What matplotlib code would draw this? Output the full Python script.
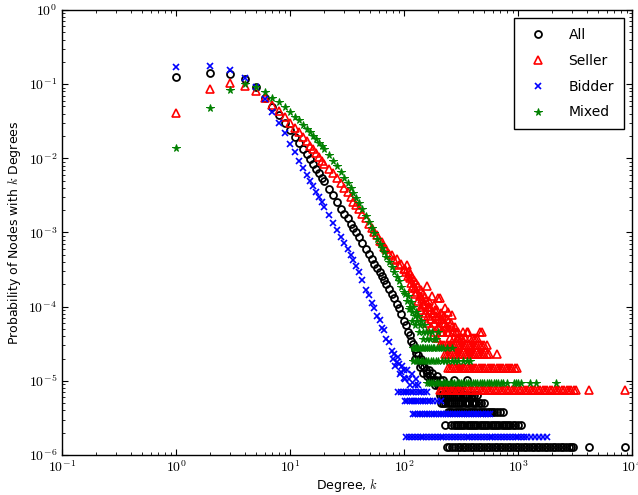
import numpy as np
import matplotlib
matplotlib.use("Agg")
import matplotlib.pyplot as plt
from matplotlib.ticker import FuncFormatter, LogLocator

plt.rcParams['mathtext.fontset'] = 'cm'
plt.rcParams['font.family'] = ['DejaVu Sans']

# Body of the distributions (one point per degree)
body_k = [1, 2, 3, 4, 5, 6, 7, 8, 9, 10, 11, 12, 13, 14, 15, 16, 17, 18, 19, 20,
          22, 24, 26, 28, 30, 32, 34, 36, 38, 40, 43, 46, 49, 52, 55, 58, 61, 64, 67, 70,
          74, 78, 82, 86, 90, 95, 100]

all_p = [0.126, 0.143, 0.137, 0.119, 0.093, 0.0646, 0.049, 0.038, 0.030, 0.024,
         0.0195, 0.0162, 0.0135, 0.0115, 0.0098, 0.0083, 0.0072, 0.0063, 0.0055, 0.0049,
         3.9e-3, 3.2e-3, 2.6e-3, 2.1e-3, 1.8e-3, 1.55e-3, 1.32e-3, 1.15e-3, 1.0e-3, 8.7e-4,
         7.2e-4, 6.0e-4, 5.1e-4, 4.4e-4, 3.8e-4, 3.3e-4, 2.9e-4, 2.6e-4, 2.3e-4, 2.0e-4,
         1.75e-4, 1.5e-4, 1.3e-4, 1.1e-4, 9.5e-5, 8.0e-5, 6.5e-5]
seller_p = [0.0405, 0.086, 0.103, 0.0946, 0.082, 0.066, 0.0525, 0.0437, 0.0363, 0.030,
            0.0257, 0.0224, 0.0195, 0.0170, 0.0148, 0.0132, 0.0117, 0.0105, 0.0093, 0.0085,
            7.1e-3, 6.3e-3, 5.4e-3, 4.6e-3, 4.0e-3, 3.5e-3, 3.0e-3, 2.6e-3, 2.35e-3, 2.1e-3,
            1.75e-3, 1.55e-3, 1.3e-3, 1.15e-3, 1.0e-3, 9.2e-4, 7.8e-4, 7.4e-4, 6.3e-4, 6.0e-4,
            5.2e-4, 5.0e-4, 4.2e-4, 4.4e-4, 3.6e-4, 3.8e-4, 3.2e-4]
bidder_p = [0.172, 0.176, 0.155, 0.122, 0.093, 0.0625, 0.0426, 0.0302, 0.0218, 0.0158,
            0.0120, 0.0093, 0.0074, 0.0060, 0.0050, 0.0042, 0.0035, 0.0030, 0.0026, 0.0022,
            1.74e-3, 1.35e-3, 1.07e-3, 8.7e-4, 7.2e-4, 6.0e-4, 5.0e-4, 4.2e-4, 3.5e-4, 2.9e-4,
            2.3e-4, 1.7e-4, 1.45e-4, 1.12e-4, 9.5e-5, 7.6e-5, 6.7e-5, 5.2e-5, 4.8e-5, 3.7e-5,
            3.3e-5, 2.5e-5, 2.3e-5, 1.8e-5, 1.7e-5, 1.3e-5, 1.4e-5]
mixed_p = [0.0139, 0.048, 0.0835, 0.100, 0.091, 0.0776, 0.066, 0.0575, 0.049, 0.0417,
           0.0363, 0.0324, 0.0282, 0.0251, 0.0224, 0.0200, 0.0182, 0.0162, 0.0148, 0.0135,
           0.0112, 9.3e-3, 7.8e-3, 6.5e-3, 5.5e-3, 4.7e-3, 4.0e-3, 3.4e-3, 2.9e-3, 2.5e-3,
           2.05e-3, 1.65e-3, 1.38e-3, 1.15e-3, 9.8e-4, 8.3e-4, 7.1e-4, 6.2e-4, 5.4e-4, 4.7e-4,
           4.0e-4, 3.4e-4, 2.9e-4, 2.5e-4, 2.2e-4, 1.85e-4, 1.6e-4]

# Noisy region between body and the discrete tail
all_noise_k = [104, 108, 112, 116, 120, 124, 128, 132, 136, 140, 145, 150, 155, 160, 165,
               170, 176, 182, 188, 194, 200, 208, 216, 225, 235, 245, 258, 272, 290, 310, 355,
               125, 138, 148, 158, 168, 178, 190, 205, 220]
all_noise_p = [5.6e-5, 4.6e-5, 4.1e-5, 3.4e-5, 3.1e-5, 2.7e-5, 2.4e-5, 2.2e-5, 1.9e-5, 2.0e-5,
               1.66e-5, 1.53e-5, 1.4e-5, 1.28e-5, 1.4e-5, 1.15e-5, 1.28e-5, 1.02e-5, 8.9e-6,
               1.15e-5, 8.9e-6, 1.02e-5, 7.66e-6, 8.9e-6, 7.66e-6, 8.9e-6, 7.66e-6, 1.02e-5,
               7.66e-6, 7.66e-6, 1.02e-5,
               2.0e-5, 1.53e-5, 1.28e-5, 1.15e-5, 1.02e-5, 1.02e-5, 1.02e-5, 8.9e-6, 1.02e-5]
seller_noise_k = [102, 104, 106, 108, 110, 112, 114, 116, 118, 120, 122, 125, 128, 131, 134,
                  137, 140, 143, 146, 150, 154, 158, 162, 166, 170, 175, 180, 185, 190, 195,
                  200, 206, 212, 218, 225, 232, 240, 245, 250, 260, 270, 280, 290, 300, 315,
                  330, 355, 380, 420, 480, 150, 160, 172, 185, 195, 210, 132, 141, 126, 118,
                  142, 148, 153, 157, 163, 168, 174, 178, 183, 188, 193, 198, 203, 209, 215,
                  221, 228, 236, 243, 255, 265, 275, 285, 295, 305, 320, 340, 365, 400, 440,
                  464, 207, 229, 262]
seller_noise_p = [3.2e-4, 2.9e-4, 3.6e-4, 2.6e-4, 3.0e-4, 2.4e-4, 2.8e-4, 2.1e-4, 2.5e-4,
                  1.9e-4, 2.3e-4, 1.8e-4, 2.1e-4, 1.6e-4, 1.9e-4, 1.4e-4, 1.7e-4, 1.25e-4,
                  1.5e-4, 1.1e-4, 1.36e-4, 1.9e-4, 1.0e-4, 1.21e-4, 9.1e-5, 1.4e-4, 8.3e-5,
                  1.06e-4, 7.6e-5, 9.1e-5, 1.3e-4, 6.8e-5, 8.3e-5, 6.1e-5, 7.6e-5, 5.3e-5,
                  6.8e-5, 8.6e-5, 4.5e-5, 6.1e-5, 4.5e-5, 5.3e-5, 3.8e-5, 4.5e-5, 3.8e-5,
                  4.5e-5, 4.5e-5, 3.8e-5, 3.8e-5, 4.5e-5, 7.6e-5, 6.1e-5, 5.3e-5, 4.5e-5,
                  3.8e-5, 4.5e-5, 1.2e-4, 1.0e-4, 1.5e-4, 1.8e-4,
                  9.1e-5, 1.06e-4, 8.3e-5, 1.2e-4, 7.6e-5, 9.8e-5, 6.8e-5, 8.3e-5, 6.1e-5,
                  9.1e-5, 6.8e-5, 5.3e-5, 7.6e-5, 5.3e-5, 6.8e-5, 4.5e-5, 6.1e-5, 4.5e-5,
                  5.3e-5, 3.8e-5, 5.3e-5, 3.8e-5, 4.5e-5, 3.8e-5, 3.8e-5, 3.8e-5, 3.8e-5,
                  4.5e-5, 3.8e-5, 3.8e-5, 4.6e-5, 1.3e-4, 9.5e-5, 7.7e-5]
bidder_noise_k = [84, 88, 92, 97, 103, 106, 110, 113, 118, 124, 128, 133, 80, 99]
bidder_noise_p = [1.6e-5, 2.1e-5, 1.24e-5, 1.6e-5, 1.06e-5, 1.42e-5, 1.06e-5, 8.9e-6,
                  1.24e-5, 8.9e-6, 1.06e-5, 8.9e-6, 2.0e-5, 1.1e-5]
mixed_noise_k = [103, 106, 109, 112, 115, 118, 121, 124, 127, 130, 134, 138, 142, 146, 150,
                 155, 160, 165, 170, 176, 182, 190, 200, 110, 117, 125, 136, 148]
mixed_noise_p = [1.5e-4, 1.2e-4, 1.4e-4, 1.0e-4, 1.15e-4, 8.4e-5, 1.0e-4, 7.4e-5, 8.4e-5,
                 6.5e-5, 7.4e-5, 5.6e-5, 6.5e-5, 4.6e-5, 5.6e-5, 4.6e-5, 3.7e-5, 4.6e-5,
                 3.7e-5, 4.6e-5, 3.7e-5, 3.7e-5, 4.6e-5, 9.3e-5, 6.5e-5, 5.6e-5, 4.6e-5, 3.7e-5]

# Discrete tail: probability levels (n / N) and the degrees seen at each level
all_levels = [1.276e-6, 2.55e-6, 3.83e-6, 5.1e-6, 6.38e-6]
all_level_k = [
    [238, 250, 262, 280, 295, 311, 328, 346, 365, 385, 406, 428, 452, 477, 503, 531, 560,
     591, 623, 657, 693, 731, 771, 813, 858, 905, 955, 1007, 1062, 1120, 1182, 1247, 1315,
     1387, 1463, 1543, 1628, 1717, 1811, 1911, 2016, 2126, 2243, 2366, 2496, 2633, 2778,
     2930, 3050, 4200, 8650],
    [229, 260, 272, 284, 297, 310, 324, 339, 354, 370, 387, 404, 422, 441, 461, 482, 504,
     527, 551, 576, 602, 629, 657, 687, 718, 750, 784, 820, 857, 896, 940, 1000, 1070],
    [244, 255, 266, 278, 290, 303, 317, 331, 346, 362, 378, 395, 413, 432, 452, 473, 495,
     518, 542, 567, 593, 620, 650, 690, 745],
    [213, 222, 231, 241, 251, 262, 273, 285, 298, 311, 325, 340, 356, 373, 391, 410, 430,
     452, 475, 500],
    [207, 215, 224, 233, 243, 253, 264, 275, 287, 300, 313, 327, 342, 358, 375, 395, 415, 435],
]
seller_levels = [7.57e-6, 1.51e-5, 2.27e-5, 3.03e-5]
seller_level_k = [
    [207, 217, 228, 239, 251, 263, 276, 290, 304, 319, 335, 352, 369, 387, 406, 426, 447,
     469, 492, 516, 542, 569, 597, 626, 657, 690, 724, 760, 797, 837, 878, 922, 967, 1015,
     1065, 1118, 1173, 1231, 1292, 1356, 1423, 1493, 1567, 1645, 1726, 1811, 1901, 1995,
     2094, 2197, 2306, 2420, 2540, 2666, 2798, 2936, 3081, 3230, 4200, 8650],
    [244, 255, 266, 278, 290, 303, 317, 331, 346, 362, 378, 395, 413, 432, 452, 473, 495,
     518, 542, 567, 593, 620, 649, 679, 710, 743, 777, 813, 851, 890, 935, 980],
    [229, 239, 250, 261, 273, 285, 298, 311, 325, 340, 355, 371, 388, 405, 423, 442, 462,
     483, 505, 530, 555, 650],
    [207, 216, 226, 236, 247, 258, 270, 282, 295, 308, 322, 337, 352, 368, 385, 402, 420,
     440, 460, 482, 505, 530],
]
bidder_levels = [1.77e-6, 3.55e-6, 5.3e-6, 7.1e-6]
bidder_level_k = [
    [105, 111, 118, 125, 132, 140, 148, 157, 166, 176, 187, 198, 210, 222, 235, 249, 264,
     280, 297, 315, 334, 354, 375, 397, 421, 446, 473, 501, 531, 563, 597, 633, 671, 711,
     754, 799, 847, 898, 952, 1009, 1070, 1134, 1202, 1290, 1400, 1520, 1650, 1780],
    [120, 126, 132, 138, 145, 152, 159, 167, 175, 183, 192, 201, 211, 221, 232, 243, 255,
     267, 280, 294, 308, 323, 338, 355, 372, 390, 410, 430, 450, 472, 495, 520, 545, 570],
    [102, 107, 112, 117, 122, 128, 134, 140, 147, 154, 162, 170, 181, 194, 210],
    [89, 94, 99, 104, 108, 115, 121, 127, 135, 142, 150, 158],
]
mixed_levels = [9.3e-6, 1.86e-5, 2.79e-5]
mixed_level_k = [
    [158, 165, 173, 181, 190, 199, 208, 218, 229, 240, 251, 263, 276, 289, 303, 317, 332,
     348, 365, 382, 400, 420, 440, 461, 483, 506, 530, 555, 582, 610, 640, 670, 705, 740,
     800, 920, 960, 1010, 1060, 1280, 1450, 2150],
    [121, 127, 134, 141, 148, 156, 164, 172, 181, 190, 200, 215, 230, 245, 262, 280, 300,
     330, 360, 380],
    [120, 124, 128, 133, 138, 143, 148, 153, 159, 165, 171, 178, 185, 193, 201, 210, 222,
     240, 262],
]


def collect(p_body, noise_k, noise_p, levels, level_k):
    ks = list(body_k) + list(noise_k)
    ps = list(p_body) + list(noise_p)
    for lvl, kk in zip(levels, level_k):
        ks += kk
        ps += [lvl] * len(kk)
    return np.array(ks), np.array(ps)


fig = plt.figure(figsize=(6.38, 4.95), dpi=100)
ax = fig.add_axes([62 / 638, 40 / 495, 570 / 638, 445 / 495])

k, p = collect(all_p, all_noise_k, all_noise_p, all_levels, all_level_k)
ax.plot(k, p, 'o', mfc='none', mec='k', ms=5, mew=1.3, label='All')
k, p = collect(seller_p, seller_noise_k, seller_noise_p, seller_levels, seller_level_k)
ax.plot(k, p, '^', mfc='none', mec='r', ms=5.5, mew=1.2, label='Seller')
k, p = collect(bidder_p, bidder_noise_k, bidder_noise_p, bidder_levels, bidder_level_k)
ax.plot(k, p, 'x', color='b', ms=5, mew=1.2, label='Bidder')
k, p = collect(mixed_p, mixed_noise_k, mixed_noise_p, mixed_levels, mixed_level_k)
ax.plot(k, p, '*', color='g', mec='g', ms=5.5, mew=0.7, label='Mixed')

ax.set_xscale('log')
ax.set_yscale('log')
ax.set_xlim(1e-1, 1e4)
ax.set_ylim(1e-6, 1e0)

fmt = FuncFormatter(lambda v, pos: r'$10^{%d}$' % int(round(np.log10(v))))
ax.xaxis.set_major_formatter(fmt)
ax.yaxis.set_major_formatter(fmt)
ax.xaxis.set_major_locator(LogLocator(base=10, numticks=10))
ax.yaxis.set_major_locator(LogLocator(base=10, numticks=10))
ax.xaxis.set_minor_locator(LogLocator(base=10, subs=np.arange(2, 10), numticks=20))
ax.yaxis.set_minor_locator(LogLocator(base=10, subs=np.arange(2, 10), numticks=20))
ax.tick_params(which='both', direction='in', top=True, right=True, labelsize=10)
ax.tick_params(which='major', length=4, width=0.8)
ax.tick_params(which='minor', length=2, width=0.6)
for s in ax.spines.values():
    s.set_linewidth(1.0)

ax.set_xlabel(r'Degree, $k$', fontsize=9, labelpad=1)
ax.set_ylabel(r'Probability of Nodes with $k$ Degrees', fontsize=9)

leg = ax.legend(loc='upper right', numpoints=1, fontsize=10, fancybox=False,
                edgecolor='k', framealpha=1, borderpad=0.7, labelspacing=0.85,
                handletextpad=1.2, borderaxespad=0.6)
leg.get_frame().set_linewidth(1.0)

fig.savefig('out.png', dpi=100)
